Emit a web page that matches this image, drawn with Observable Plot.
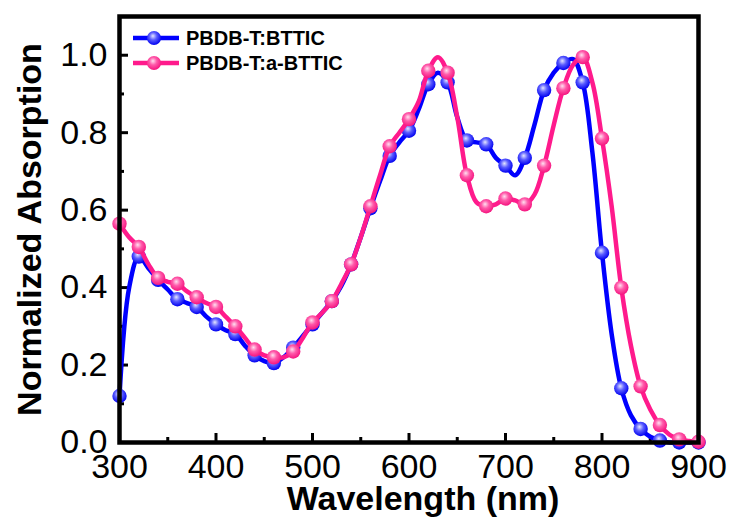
<!DOCTYPE html>
<html>
<head>
<meta charset="utf-8">
<script src="https://cdn.jsdelivr.net/npm/d3@7"></script>
<script src="https://cdn.jsdelivr.net/npm/@observablehq/plot@0.6"></script>
<style>
  html, body { margin: 0; padding: 0; background: #fff; }
  #chart svg { display: block; }
</style>
</head>
<body>
<div id="chart"></div>
<script>
// ---- data ----
const wavelength = [300,310,320,330,340,350,360,370,380,390,400,410,420,430,440,450,460,470,480,490,500,510,520,530,540,550,560,570,580,590,600,610,620,630,640,650,660,670,680,690,700,710,720,730,740,750,760,770,780,790,800,810,820,830,840,850,860,870,880,890,900];
const absBTTIC = [0.12,0.40,0.48,0.45,0.42,0.395,0.37,0.36,0.35,0.325,0.305,0.29,0.28,0.25,0.225,0.21,0.205,0.22,0.245,0.275,0.305,0.335,0.365,0.405,0.46,0.53,0.605,0.675,0.74,0.775,0.805,0.86,0.925,0.955,0.93,0.84,0.78,0.775,0.77,0.735,0.715,0.69,0.735,0.82,0.91,0.955,0.98,0.99,0.93,0.75,0.49,0.28,0.14,0.07,0.035,0.015,0.005,0.0,0.0,0.0,0.0];
const absABTTIC = [0.565,0.53,0.505,0.46,0.425,0.415,0.41,0.39,0.375,0.36,0.35,0.325,0.30,0.27,0.24,0.225,0.22,0.22,0.235,0.27,0.31,0.335,0.365,0.41,0.46,0.53,0.61,0.69,0.765,0.80,0.835,0.88,0.96,0.995,0.955,0.84,0.69,0.62,0.61,0.615,0.63,0.625,0.615,0.64,0.715,0.82,0.915,0.975,0.995,0.93,0.785,0.61,0.40,0.25,0.145,0.085,0.045,0.02,0.008,0.004,0.002];
const seriesNames = ["PBDB-T:BTTIC", "PBDB-T:a-BTTIC"];
const seriesColors = ["#0000ff", "#ff1a8c"];
const xMajor = [300,400,500,600,700,800,900];
const xMinor = [350,450,550,650,750,850];
const yMajor = [0.0,0.2,0.4,0.6,0.8,1.0];
const yMinor = [0.1,0.3,0.5,0.7,0.9];

// ---- build tables ----
const seriesValues = [absBTTIC, absABTTIC];
const rows = [];
seriesValues.forEach((vals, s) => {
  vals.forEach((v, i) => rows.push({series: seriesNames[s], x: wavelength[i], y: v, marker: wavelength[i] % 20 === 0}));
});
const W = 731, H = 522;
const mL = 119, mR = 33, mT = 16, mB = 80;
const innerW = W - mL - mR, innerH = H - mT - mB;
const font = "'Liberation Sans', Arial, Helvetica, sans-serif";

const marks = [];
seriesNames.forEach((name, s) => {
  const d = rows.filter(r => r.series === name);
  marks.push(Plot.line(d, {x: "x", y: "y", stroke: seriesColors[s], strokeWidth: 4.5, curve: "catmull-rom"}));
  marks.push(Plot.dot(d.filter(r => r.marker), {x: "x", y: "y", r: 7.2, fill: `url(#grad${s})`, stroke: "none"}));
});

const chart = Plot.plot({
  width: W, height: H,
  marginLeft: mL, marginRight: mR, marginTop: mT, marginBottom: mB,
  style: {fontFamily: font, background: "#fff", color: "#000", overflow: "visible"},
  x: {domain: [300, 900], label: null},
  y: {domain: [0, 1.1], label: null},
  marks: [
    Plot.axisX(xMajor, {tickSize: 0, tickPadding: 11, fontSize: 34, tickFormat: d => String(d)}),
    Plot.axisY(yMajor, {tickSize: 0, tickPadding: 12, fontSize: 34, tickFormat: d3.format(".1f")}),
    Plot.tickX(xMajor, {x: d => d, insetTop: innerH - 9, stroke: "#000", strokeWidth: 3}),
    Plot.tickX(xMinor, {x: d => d, insetTop: innerH - 5, stroke: "#000", strokeWidth: 3}),
    Plot.tickY(yMajor, {y: d => d, insetRight: innerW - 9, stroke: "#000", strokeWidth: 3}),
    Plot.tickY(yMinor, {y: d => d, insetRight: innerW - 5, stroke: "#000", strokeWidth: 3}),
    ...marks,
    Plot.frame({stroke: "#000", strokeWidth: 4.5}),
    Plot.text(["Wavelength (nm)"], {frameAnchor: "bottom", dx: 14, dy: 67, text: d => d, fontSize: 34, fontWeight: "bold", fill: "#000"}),
    Plot.text(["Normalized Absorption"], {frameAnchor: "left", dx: -89, textAnchor: "middle", text: d => d, fontSize: 34, fontWeight: "bold", fill: "#000", rotate: -90})
  ]
});

// gradients for sphere-like markers + legend
const svg = d3.select(chart);
const defs = svg.insert("defs", ":first-child");
const stops = [["#e4e6ff", "#5a5cff", "#0000f0"], ["#ffe0f0", "#ff5aaa", "#f5147f"]];
stops.forEach((st, s) => {
  const g = defs.append("radialGradient").attr("id", `grad${s}`).attr("cx", "45%").attr("cy", "40%").attr("r", "60%").attr("fx", "42%").attr("fy", "35%");
  g.append("stop").attr("offset", "0%").attr("stop-color", st[0]);
  g.append("stop").attr("offset", "45%").attr("stop-color", st[1]);
  g.append("stop").attr("offset", "100%").attr("stop-color", st[2]);
});
const leg = svg.append("g").attr("class", "legend");
seriesNames.forEach((name, s) => {
  const yy = 38 + s * 25;
  leg.append("line").attr("x1", 133).attr("x2", 179).attr("y1", yy).attr("y2", yy).attr("stroke", seriesColors[s]).attr("stroke-width", 4.5);
  leg.append("circle").attr("cx", 154).attr("cy", yy).attr("r", 7).attr("fill", `url(#grad${s})`);
  leg.append("text").attr("x", 186).attr("y", yy).attr("dy", "0.35em").attr("text-anchor", "start").attr("font-size", 20).attr("font-weight", "bold").attr("font-family", font).attr("fill", "#000").text(name);
});

document.getElementById("chart").appendChild(chart);
</script>
</body>
</html>
